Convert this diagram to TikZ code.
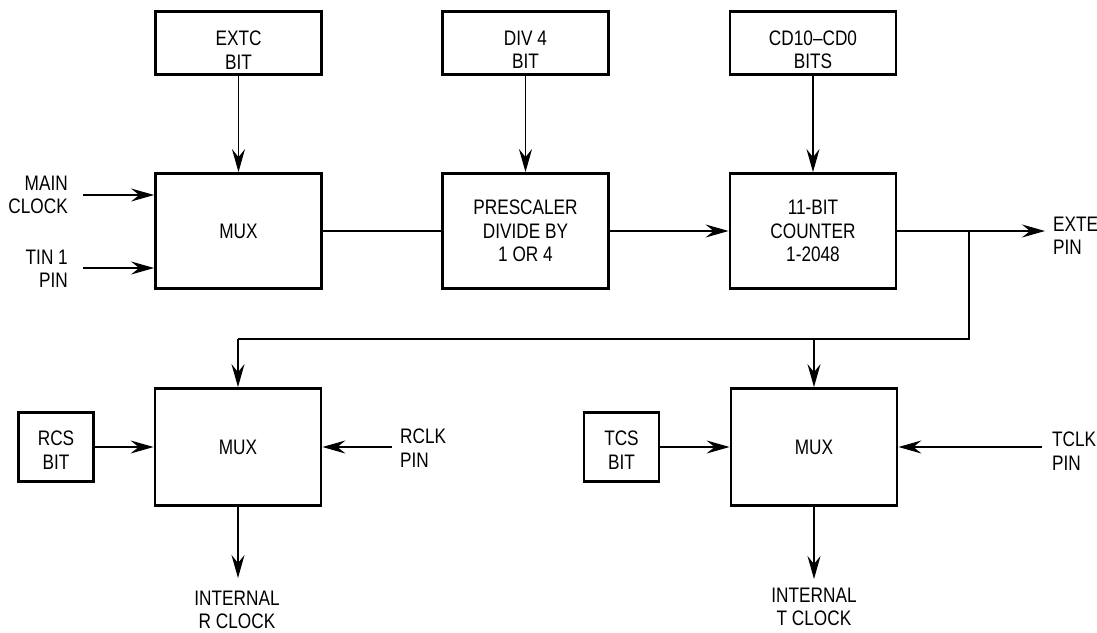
\documentclass[tikz,border=0pt]{standalone}
\usepackage{fontspec}
\setmainfont[FakeStretch=0.82]{Liberation Sans}
\usetikzlibrary{arrows.meta}
\newcommand\dgfont{\fontsize{21}{23.5}\selectfont}
\begin{document}
\begin{tikzpicture}[x=1pt,y=-1pt,
  box/.style={draw,line width=2.8pt,inner sep=0pt,align=center,font=\dgfont,minimum width=166pt},
  topbox/.style={box,minimum height=63pt},
  midbox/.style={box,minimum height=115pt},
  smallbox/.style={box,minimum width=75pt,minimum height=69pt},
  lab/.style={inner sep=0pt,font=\dgfont},
  wire/.style={line width=1.4pt},
  arr/.style={wire,-{Stealth[length=23pt,width=13pt,inset=8pt]}}]
\useasboundingbox (0,0) rectangle (1097,632);

% top row
\node[topbox] (extc) at (238.5,43) {};
\node[topbox] (div4) at (525.5,43) {};
\node[topbox] (cd) at (813,43) {};
\node[lab,align=center] (extct) at (238.5,50) {EXTC\\BIT};
\node[lab,align=center] (div4t) at (525.5,50) {DIV 4\\BIT};
\node[lab,align=center] (cdt) at (813,50) {CD10–CD0\\BITS};

% middle row
\node[midbox] (mux1) at (238.5,231) {MUX};
\node[midbox] (pre) at (525.5,231) {PRESCALER\\DIVIDE BY\\1 OR 4};
\node[midbox] (cnt) at (813,231) {11-BIT\\COUNTER\\1-2048};

% bottom row
\node[midbox,minimum height=117pt] (mux2) at (238,447) {MUX};
\node[midbox,minimum height=117pt] (mux3) at (814,447) {MUX};
\node[smallbox] (rcs) at (56,447) {};
\node[smallbox] (tcs) at (621.5,447) {};
\node[lab,align=center] (rcst) at (56,450) {RCS\\BIT};
\node[lab,align=center] (tcst) at (621.5,450) {TCS\\BIT};

% text labels
\node[lab,align=right,anchor=east] (mainclk) at (68,195) {MAIN\\CLOCK};
\node[lab,align=right,anchor=east] (tin) at (68,269) {TIN 1\\PIN};
\node[lab,align=left,anchor=west] (exte) at (1053,236) {EXTE\\PIN};
\node[lab,align=left,anchor=west] (rclk) at (400,448) {RCLK\\PIN};
\node[lab,align=left,anchor=west] (tclk) at (1052,451) {TCLK\\PIN};
\node[lab,align=center] (intr) at (237,610) {INTERNAL\\R CLOCK};
\node[lab,align=center] (intt) at (814,607) {INTERNAL\\T CLOCK};

% coordinates
\coordinate (j) at (969,231);
\coordinate (b) at (969,339);
\coordinate (exteo) at (1045,231);
\coordinate (rclkin) at (392,447);
\coordinate (tclkin) at (1042,447);
\coordinate (mcin) at (83,195);
\coordinate (tinin) at (83,268);
\coordinate (rout) at (237,578);
\coordinate (tout) at (814,579);

% connectors
\draw[arr] (extc) -- (mux1);
\draw[arr] (div4) -- (pre);
\draw[arr] (cd) -- (cnt);
\draw[arr] (mcin) -- (mux1.west |- mcin);
\draw[arr] (tinin) -- (mux1.west |- tinin);
\draw[wire] (mux1.east) -- (pre.west);
\draw[arr] (pre.east) -- (cnt.west);
\draw[arr] (cnt.east) -- (exteo);
\draw[wire] (j) -- (b) -- (b -| mux2.north);
\draw[arr] (b -| mux2.north) -- (mux2.north);
\draw[arr] (b -| mux3.north) -- (mux3.north);
\draw[arr] (rcs.east) -- (mux2.west |- rcs.east);
\draw[arr] (rclkin) -- (mux2.east |- rclkin);
\draw[arr] (tcs.east) -- (mux3.west |- tcs.east);
\draw[arr] (tclkin) -- (mux3.east |- tclkin);
\draw[arr] (mux2.south) -- (mux2.south |- rout);
\draw[arr] (mux3.south) -- (mux3.south |- tout);
\end{tikzpicture}
\end{document}
